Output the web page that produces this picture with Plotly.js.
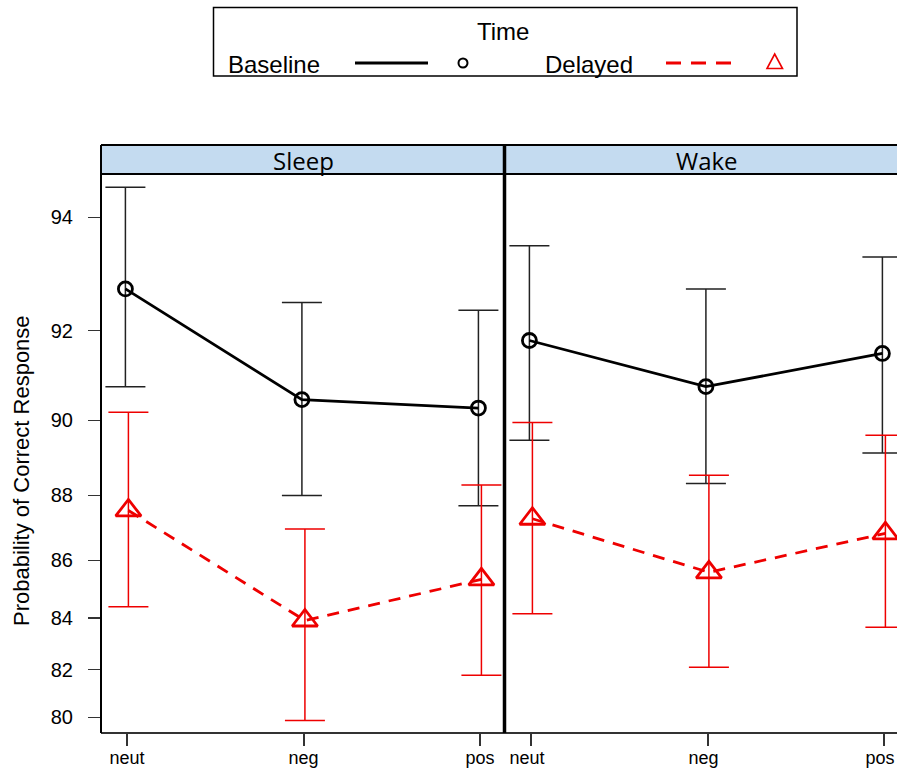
<!DOCTYPE html>
<html><head><meta charset="utf-8">
<script src="https://cdn.plot.ly/plotly-3.0.1.min.js"></script>
<style>body{margin:0;background:#fff}#plot{width:897px;height:771px}</style>
</head><body><div id="plot"></div>
<script>
const categories = ["neut", "neg", "pos"];
const panels = ["Sleep", "Wake"];
const times = ["Baseline", "Delayed"];
// probability of correct response (%)
const sleepBaseline      = [92.8, 90.5, 90.3];
const sleepBaselineUpper = [94.45, 92.55, 92.4];
const sleepBaselineLower = [90.8, 88.0, 87.7];
const sleepDelayed       = [87.56, 83.9, 85.36];
const sleepDelayedUpper  = [90.2, 87.0, 88.3];
const sleepDelayedLower  = [84.4, 79.86, 81.78];
const wakeBaseline       = [91.8, 90.8, 91.53];
const wakeBaselineUpper  = [93.55, 92.8, 93.36];
const wakeBaselineLower  = [89.5, 88.34, 89.17];
const wakeDelayed        = [87.31, 85.6, 86.86];
const wakeDelayedUpper   = [89.95, 88.57, 89.63];
const wakeDelayedLower   = [84.15, 82.1, 83.65];
const yTicks = [80, 82, 84, 86, 88, 90, 92, 94];

const lg = p => Math.log((p / 100) / (1 - p / 100));

// pixel -> paper helpers (plot area 101..897 x 174..733)
const L = 101, T = 174, W = 796, H = 559;
const X = px => (px - L) / W;
const Y = py => (T + H - py) / H;

const styles = {
  Baseline: {color: "#000", err: "#222", dash: "solid", symbol: "circle-open", size: 14, mw: 2.8, dodge: -0.009},
  Delayed:  {color: "#ee0000", err: "#ee0000", dash: "12px,9px", symbol: "triangle-up-open", size: 22, mw: 2.8, dodge: 0.008}
};
const series = {
  Sleep: {Baseline: [sleepBaseline, sleepBaselineUpper, sleepBaselineLower],
          Delayed:  [sleepDelayed, sleepDelayedUpper, sleepDelayedLower]},
  Wake:  {Baseline: [wakeBaseline, wakeBaselineUpper, wakeBaselineLower],
          Delayed:  [wakeDelayed, wakeDelayedUpper, wakeDelayedLower]}
};

const traces = [];
panels.forEach((pan, pi) => {
  times.forEach(t => {
    const [v, up, lo] = series[pan][t];
    const s = styles[t];
    const yv = v.map(lg);
    traces.push({
      type: "scatter", mode: "lines+markers",
      x: categories.map((c, i) => i + 1 + s.dodge),
      y: yv,
      xaxis: pi === 0 ? "x" : "x2", yaxis: "y",
      line: {color: s.color, width: 2.8, dash: s.dash},
      marker: {symbol: s.symbol, size: s.size, color: s.color, line: {color: s.color, width: s.mw}},
      error_y: {type: "data", symmetric: false,
        array: up.map((u, i) => lg(u) - yv[i]),
        arrayminus: lo.map((l, i) => yv[i] - lg(l)),
        width: 20, thickness: 1.5, color: s.err},
      showlegend: false, cliponaxis: true, name: t
    });
  });
});

const xfont = {family: "Liberation Sans, Arial, sans-serif", size: 18, color: "#000"};
const yfont = {family: "Liberation Sans, Arial, sans-serif", size: 20, color: "#000"};
const xbase = {
  tickvals: [1, 2, 3], ticktext: categories, ticks: "outside", ticklen: 12, tickwidth: 2,
  tickcolor: "#333", showgrid: false, zeroline: false, showline: false, tickfont: xfont,
  ticklabelstandoff: -4, ticklabeloverflow: "allow", fixedrange: true
};

const shapes = [
  // strips
  {type: "rect", xref: "paper", yref: "paper", x0: X(101), x1: X(505), y0: Y(174), y1: Y(145),
   fillcolor: "#c4dbf0", line: {width: 0}},
  {type: "rect", xref: "paper", yref: "paper", x0: X(505), x1: X(905), y0: Y(174), y1: Y(145),
   fillcolor: "#c4dbf0", line: {width: 0}},
  // frame lines
  {type: "line", xref: "paper", yref: "paper", x0: X(101), x1: X(905), y0: Y(145), y1: Y(145), line: {color: "#000", width: 2}},
  {type: "line", xref: "paper", yref: "paper", x0: X(101), x1: X(905), y0: Y(174), y1: Y(174), line: {color: "#000", width: 2}},
  {type: "line", xref: "paper", yref: "paper", x0: X(101), x1: X(905), y0: Y(733), y1: Y(733), line: {color: "#333", width: 2}},
  {type: "line", xref: "paper", yref: "paper", x0: X(101), x1: X(101), y0: Y(145), y1: Y(733), line: {color: "#000", width: 2}},
  {type: "line", xref: "paper", yref: "paper", x0: X(504.5), x1: X(504.5), y0: Y(145), y1: Y(733), line: {color: "#000", width: 3.5}},
  // legend box
  {type: "rect", xref: "paper", yref: "paper", x0: X(213.5), x1: X(797), y0: Y(76), y1: Y(7.5),
   fillcolor: "rgba(0,0,0,0)", line: {color: "#000", width: 1.5}},
  // legend keys
  {type: "line", xref: "paper", yref: "paper", x0: X(355), x1: X(428), y0: Y(63), y1: Y(63), line: {color: "#000", width: 3}},
  {type: "circle", xref: "paper", yref: "paper", x0: X(458.5), x1: X(467.5), y0: Y(67.5), y1: Y(58.5), line: {color: "#000", width: 2}},
  {type: "line", xref: "paper", yref: "paper", x0: X(666), x1: X(732), y0: Y(63), y1: Y(63), line: {color: "#ee0000", width: 3, dash: "15px,10px"}},
  {type: "path", xref: "paper", yref: "paper",
   path: `M ${X(767)} ${Y(68.5)} L ${X(782.5)} ${Y(68.5)} L ${X(774.7)} ${Y(54)} Z`,
   line: {color: "#ee0000", width: 1.6}}
];

const stripFont = {family: "Open Sans, Noto Sans, sans-serif", size: 24, color: "#000"};
const legFont = {family: "Liberation Sans, Arial, sans-serif", size: 24, color: "#000"};
const annotations = [
  {text: panels[0], xref: "paper", yref: "paper", x: X(303), y: Y(160), showarrow: false, font: stripFont, xanchor: "center", yanchor: "middle"},
  {text: panels[1], xref: "paper", yref: "paper", x: X(707), y: Y(160), showarrow: false, font: stripFont, xanchor: "center", yanchor: "middle"},
  {text: "Time", xref: "paper", yref: "paper", x: X(503), y: Y(32), showarrow: false, font: legFont, xanchor: "center", yanchor: "middle"},
  {text: times[0], xref: "paper", yref: "paper", x: X(226), y: Y(65), showarrow: false, font: legFont, xanchor: "left", yanchor: "middle"},
  {text: times[1], xref: "paper", yref: "paper", x: X(543), y: Y(65), showarrow: false, font: legFont, xanchor: "left", yanchor: "middle"},
  {text: "Probability of Correct Response", xref: "paper", yref: "paper", x: X(21), y: Y(471), showarrow: false,
   textangle: -90, font: {family: "Liberation Sans, Arial, sans-serif", size: 22, color: "#000"}, xanchor: "center", yanchor: "middle"}
];

const layout = {
  width: 897, height: 771,
  margin: {l: L, r: 0, t: T, b: 771 - T - H, pad: 0},
  paper_bgcolor: "#fff", plot_bgcolor: "#fff",
  showlegend: false,
  xaxis: Object.assign({}, xbase, {domain: [0, X(505)], range: [0.8527, 3.1416], anchor: "y"}),
  xaxis2: Object.assign({}, xbase, {domain: [X(505), 1], range: [0.8527, 3.0737], anchor: "y",
    ticklabelshift: -4}),
  yaxis: {
    range: [1.3436, 2.8702], tickvals: yTicks.map(lg), ticktext: yTicks.map(String),
    ticks: "outside", ticklen: 12, tickwidth: 1.5, tickcolor: "#333", showgrid: false, zeroline: false,
    showline: false, tickfont: yfont, ticklabelstandoff: 11, fixedrange: true
  },
  shapes: shapes, annotations: annotations
};

Plotly.newPlot("plot", traces, layout, {displayModeBar: false, staticPlot: true});
</script>
</body></html>
